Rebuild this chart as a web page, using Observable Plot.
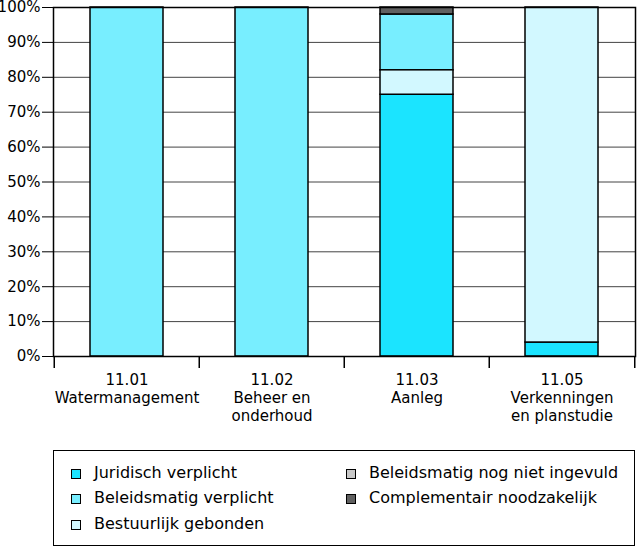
<!DOCTYPE html>
<html>
<head>
<meta charset="utf-8">
<script src="https://cdn.jsdelivr.net/npm/d3@7"></script>
<script src="https://cdn.jsdelivr.net/npm/@observablehq/plot@0.6"></script>
<style>
  html, body { margin: 0; padding: 0; background: #fff; }
  body { width: 637px; height: 549px; position: relative; overflow: hidden; font-family: "DejaVu Sans", sans-serif; }
  #chart { position: absolute; left: 0; top: 0; }
  #legend { position: absolute; left: 53px; top: 450px; width: 580px; height: 94px; border: 1.5px solid #000; box-sizing: content-box; }
  .item { position: absolute; font-size: 16px; line-height: 18px; color: #000; white-space: nowrap; }
  .sw { position: absolute; width: 8px; height: 8px; border: 1.5px solid #000; }
</style>
</head>
<body>
<div id="chart"></div>
<div id="legend"></div>
<script>
// ---- data ----
const codes = ["11.01", "11.02", "11.03", "11.05"];
const names = ["Watermanagement", "Beheer en\nonderhoud", "Aanleg", "Verkenningen\nen planstudie"];
const seriesNames = ["Juridisch verplicht", "Beleidsmatig verplicht", "Bestuurlijk gebonden", "Beleidsmatig nog niet ingevuld", "Complementair noodzakelijk"];
const juridisch = [0, 0, 75, 4];
const beleidsmatig = [100, 100, 16, 0];
const bestuurlijk = [0, 0, 7, 96];
const nogNiet = [0, 0, 0, 0];
const complementair = [0, 0, 2, 0];
const seriesColors = ["#1be4ff", "#78eeff", "#d2f8ff", "#c8c8c8", "#606060"];
const stackOrder = ["Juridisch verplicht", "Bestuurlijk gebonden", "Beleidsmatig verplicht", "Beleidsmatig nog niet ingevuld", "Complementair noodzakelijk"];
const yTicks = [0, 10, 20, 30, 40, 50, 60, 70, 80, 90, 100];

// ---- build table ----
const values = [juridisch, beleidsmatig, bestuurlijk, nogNiet, complementair];
const rows = [];
codes.forEach((c, i) => {
  seriesNames.forEach((s, j) => {
    if (values[j][i] > 0) rows.push({cat: c, series: s, value: values[j][i]});
  });
});
const labels = codes.map((c, i) => c + "\n" + names[i]);

const W = 637, H = 440, mL = 53, mR = 2, mT = 7, mB = 84;
const step = (W - mL - mR) / codes.length;
const tickLen = 12 * 100 / (H - mT - mB);

const plot = Plot.plot({
  width: W, height: H,
  marginLeft: mL, marginRight: mR, marginTop: mT, marginBottom: mB,
  style: {fontFamily: "DejaVu Sans", fontSize: "15px", color: "#000", background: "#fff"},
  x: {domain: codes, paddingInner: 0.5, paddingOuter: 0.25, axis: null},
  y: {domain: [0, 100], axis: null},
  color: {domain: seriesNames, range: seriesColors},
  marks: [
    Plot.gridY(yTicks, {stroke: "#444", strokeOpacity: 1, strokeWidth: 1}),
    Plot.axisY(yTicks, {label: null, tickSize: 11, tickPadding: 2, tickFormat: d => d + "%", fontSize: 15, stroke: "#000", strokeWidth: 1}),
    Plot.barY(rows, {x: "cat", y: "value", fill: "series", order: stackOrder, stroke: "#000", strokeWidth: 1.5}),
    Plot.frame({stroke: "#000", strokeWidth: 1.5}),
    Plot.ruleX(codes, {x: d => d, dx: -step / 2, y1: 0, y2: -tickLen, stroke: "#000", strokeWidth: 1.5}),
    Plot.ruleX([codes[codes.length - 1]], {x: d => d, dx: step / 2, y1: 0, y2: -tickLen, stroke: "#000", strokeWidth: 1.5}),
    Plot.text(codes, {x: d => d, y: 0, text: (d, i) => labels[i], lineAnchor: "top", dy: 16, lineHeight: 1.2, fontSize: 15, fill: "#000"})
  ]
});
document.getElementById("chart").appendChild(plot);

// ---- legend ----
const legend = document.getElementById("legend");
const colX = [17, 292];
const rowY = [23, 48, 74];
seriesNames.forEach((s, j) => {
  const col = j < 3 ? 0 : 1;
  const row = j < 3 ? j : j - 3;
  const sw = document.createElement("div");
  sw.className = "sw";
  sw.style.left = colX[col] + "px";
  sw.style.top = (rowY[row] - 5) + "px";
  sw.style.background = seriesColors[j];
  legend.appendChild(sw);
  const t = document.createElement("div");
  t.className = "item";
  t.textContent = s;
  t.style.left = (colX[col] + 23) + "px";
  t.style.top = (rowY[row] - 10) + "px";
  legend.appendChild(t);
});
</script>
</body>
</html>
